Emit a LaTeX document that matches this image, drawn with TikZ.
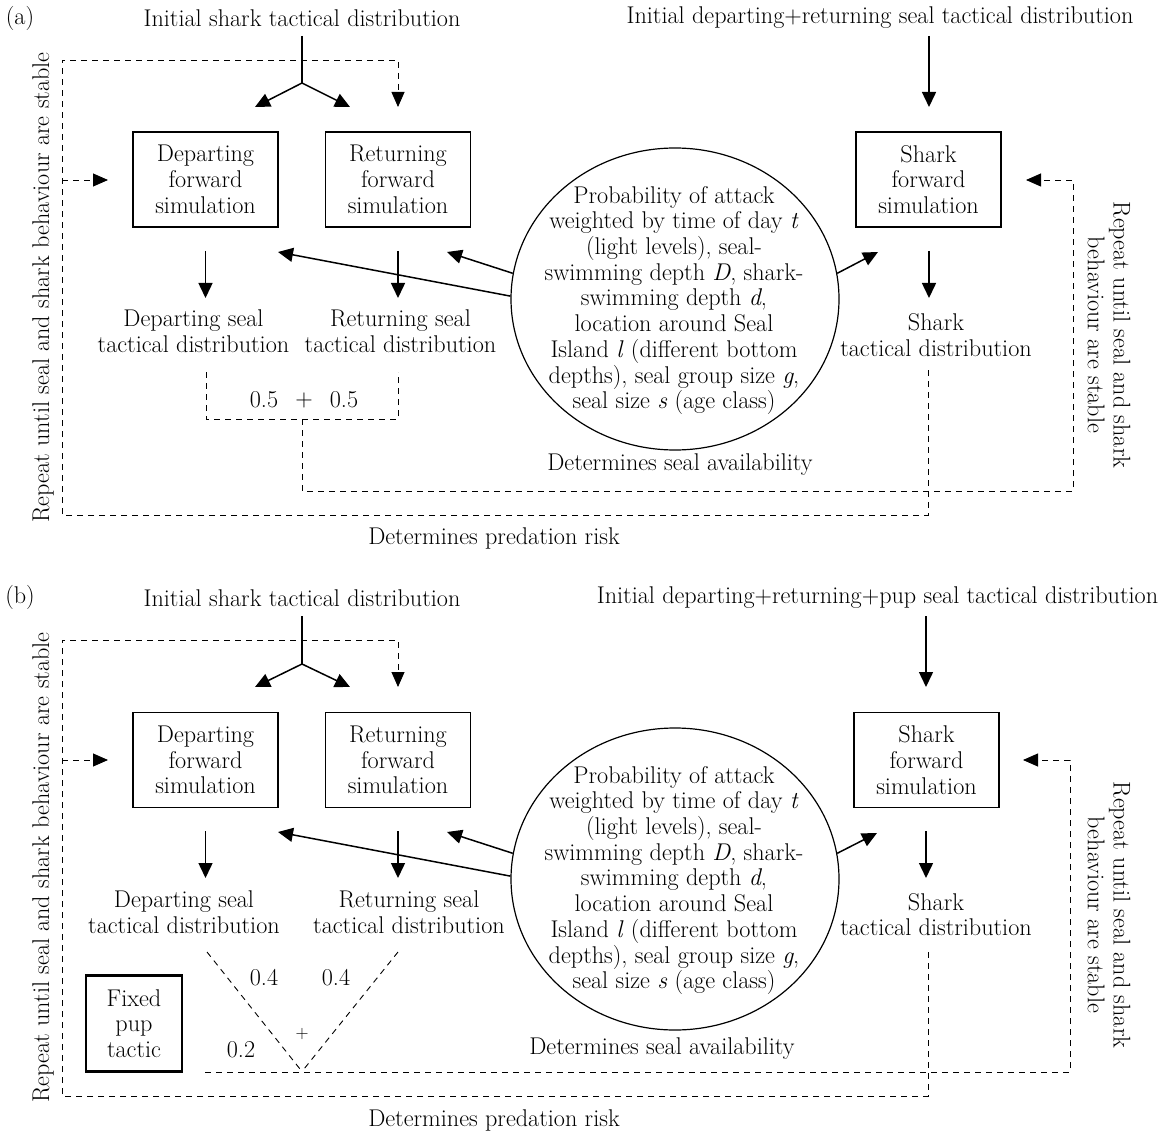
\documentclass[tikz,border=0pt]{standalone}
\usetikzlibrary{arrows.meta,shapes.geometric}
\begin{document}
\begin{tikzpicture}[x=1pt,y=-1pt,
  txt/.style={font=\fontsize{24.2}{25.7}\selectfont, inner sep=0pt, align=center},
  smalltxt/.style={font=\fontsize{18}{20}\selectfont, inner sep=0pt},
  simbox/.style={txt, draw, line width=1.3pt, minimum width=145pt, minimum height=95pt},
  pupbox/.style={txt, draw, line width=2.4pt, minimum width=96pt, minimum height=96pt},
  oval/.style={draw, ellipse, line width=1.2pt, minimum width=328pt, minimum height=302pt, inner sep=0pt},
  sline/.style={line width=1.5pt},
  arr/.style={line width=1.5pt, -{Triangle[length=15pt,width=14pt]}},
  dline/.style={line width=0.9pt, dash pattern=on 6pt off 5pt},
  darr/.style={dline, -{Triangle[length=15pt,width=13pt]}},
  vtxtl/.style={txt, rotate=90},
  vtxtr/.style={txt, rotate=-90},
]
\useasboundingbox (0,0) rectangle (1166,1131);

% ================= Panel (a) =================
\node[txt] (a-lab) at (20,18) {(a)};
\node[txt] (a-ish) at (302,18) {Initial shark tactical distribution};
\node[txt] (a-isl) at (880,18) {Initial departing+returning seal tactical distribution};
\node[simbox] (a-dep) at (205.5,179.5) {Departing\\forward\\simulation};
\node[simbox] (a-ret) at (398,179.5) {Returning\\forward\\simulation};
\node[simbox] (a-shk) at (928.5,179.5) {Shark\\forward\\simulation};
\node[txt] (a-dept) at (193.5,331) {Departing seal\\tactical distribution};
\node[txt] (a-rett) at (400.5,331) {Returning seal\\tactical distribution};
\node[txt] (a-shkt) at (936,335) {Shark\\tactical distribution};
\node[oval] (a-prob) at (675,299) {};
\node[txt] (a-probt) at (674,300.5) {Probability of attack\\
weighted by time of day \textit{t}\\
(light levels), seal-\\
swimming depth \textit{D}, shark-\\
swimming depth \textit{d},\\
location around Seal\\
Island \textit{l} (different bottom\\
depths), seal group size \textit{g},\\
seal size \textit{s} (age class)};
\node[txt] (a-avail) at (680,465) {Determines seal availability};
\node[txt] (a-risk) at (494,538) {Determines predation risk};
\node[vtxtl] (a-rpl) at (43,287.5) {Repeat until seal and shark behaviour are stable};
\node[vtxtr] (a-rpr) at (1109,335) {Repeat until seal and shark\\behaviour are stable};
\node[txt] (a-w1) at (264,400) {0.5};
\node[txt] (a-plus) at (304,400) {+};
\node[txt] (a-w2) at (344,400) {0.5};

% coordinates
\coordinate (a-s0) at (302,36);
\coordinate (a-s1) at (302,83);
\coordinate (a-sl) at (255,107);
\coordinate (a-sr) at (350,107);
\coordinate (a-i0) at (929,36);
\coordinate (a-i1) at (929,107);
\coordinate (a-d0) at (205.5,251);
\coordinate (a-d1) at (205.5,298);
\coordinate (a-r0) at (398,251);
\coordinate (a-r1) at (398,298);
\coordinate (a-k0) at (929,251);
\coordinate (a-k1) at (929,298);
\coordinate (a-t1) at (278,252);
\coordinate (a-t2) at (447,252);
\coordinate (a-t3) at (878,252);
% outer loop
\coordinate (a-o0) at (928,370);
\coordinate (a-o1) at (928,515);
\coordinate (a-o2) at (62,515);
\coordinate (a-o3) at (62,60);
\coordinate (a-o4) at (398,60);
\coordinate (a-o5) at (398,107);
\coordinate (a-o6) at (62,180);
\coordinate (a-o7) at (108,180);
% inner loop
\coordinate (a-b0) at (206,372);
\coordinate (a-b1) at (206,419);
\coordinate (a-b2) at (398,419);
\coordinate (a-b3) at (398,372);
\coordinate (a-b4) at (302,419);
\coordinate (a-b5) at (302,491);
\coordinate (a-b6) at (1073,491);
\coordinate (a-b7) at (1073,180);
\coordinate (a-b8) at (1026,180);

\draw[sline] (a-s0) -- (a-s1);
\draw[arr] (a-s1) -- (a-sl);
\draw[arr] (a-s1) -- (a-sr);
\draw[arr] (a-i0) -- (a-i1);
\draw[arr] (a-d0) -- (a-d1);
\draw[arr] (a-r0) -- (a-r1);
\draw[arr] (a-k0) -- (a-k1);
\draw[arr] (a-prob.179) -- (a-t1);
\draw[arr] (a-prob.171) -- (a-t2);
\draw[arr] (a-prob.9) -- (a-t3);
\draw[darr] (a-o0) -- (a-o1) -- (a-o2) -- (a-o3) -- (a-o4) -- (a-o5);
\draw[darr] (a-o6) -- (a-o7);
\draw[dline] (a-b0) -- (a-b1) -- (a-b2) -- (a-b3);
\draw[darr] (a-b4) -- (a-b5) -- (a-b6) -- (a-b7) -- (a-b8);

% ================= Panel (b) =================
\begin{scope}[yshift=-580pt]
\node[txt] (b-lab) at (20,17) {(b)};
\node[txt] (b-ish) at (302,18) {Initial shark tactical distribution};
\node[txt] (b-isl) at (877.5,18) {Initial departing+returning+pup seal tactical distribution};
\node[simbox] (b-dep) at (205.5,180) {Departing\\forward\\simulation};
\node[simbox] (b-ret) at (398,180) {Returning\\forward\\simulation};
\node[simbox] (b-shk) at (926.5,180) {Shark\\forward\\simulation};
\node[txt] (b-dept) at (184,332.5) {Departing seal\\tactical distribution};
\node[txt] (b-rett) at (409,332.5) {Returning seal\\tactical distribution};
\node[txt] (b-shkt) at (936,334.5) {Shark\\tactical distribution};
\node[oval] (b-prob) at (675,299) {};
\node[txt] (b-probt) at (674,300.5) {Probability of attack\\
weighted by time of day \textit{t}\\
(light levels), seal-\\
swimming depth \textit{D}, shark-\\
swimming depth \textit{d},\\
location around Seal\\
Island \textit{l} (different bottom\\
depths), seal group size \textit{g},\\
seal size \textit{s} (age class)};
\node[txt] (b-avail) at (662,469) {Determines seal availability};
\node[txt] (b-risk) at (494,540) {Determines predation risk};
\node[vtxtl] (b-rpl) at (43,287.5) {Repeat until seal and shark behaviour are stable};
\node[vtxtr] (b-rpr) at (1109,335) {Repeat until seal and shark\\behaviour are stable};
\node[pupbox] (b-pup) at (134,443.5) {Fixed\\pup\\tactic};
\node[txt] (b-w1) at (264,398) {0.4};
\node[txt] (b-w2) at (336,398) {0.4};
\node[smalltxt] (b-plus) at (302,454) {+};
\node[txt] (b-w3) at (241,470) {0.2};

\coordinate (b-s0) at (302,36);
\coordinate (b-s1) at (302,84);
\coordinate (b-sl) at (255,107);
\coordinate (b-sr) at (350,107);
\coordinate (b-i0) at (926,36);
\coordinate (b-i1) at (926,107);
\coordinate (b-d0) at (205.5,251);
\coordinate (b-d1) at (205.5,298);
\coordinate (b-r0) at (398,251);
\coordinate (b-r1) at (398,298);
\coordinate (b-k0) at (926,251);
\coordinate (b-k1) at (926,298);
\coordinate (b-t1) at (278,252);
\coordinate (b-t2) at (447,252);
\coordinate (b-t3) at (877,253);
% outer loop
\coordinate (b-o0) at (928,372);
\coordinate (b-o1) at (928,516);
\coordinate (b-o2) at (62,516);
\coordinate (b-o3) at (62,60);
\coordinate (b-o4) at (398,60);
\coordinate (b-o5) at (398,107);
\coordinate (b-o6) at (62,180);
\coordinate (b-o7) at (108,180);
% V and inner loop
\coordinate (b-v0) at (207,372);
\coordinate (b-v1) at (300,489);
\coordinate (b-v2) at (398,372);
\coordinate (b-v3) at (304,489);
\coordinate (b-h0) at (205,492);
\coordinate (b-h1) at (1070,492);
\coordinate (b-h2) at (1070,180);
\coordinate (b-h3) at (1023,180);

\draw[sline] (b-s0) -- (b-s1);
\draw[arr] (b-s1) -- (b-sl);
\draw[arr] (b-s1) -- (b-sr);
\draw[arr] (b-i0) -- (b-i1);
\draw[arr] (b-d0) -- (b-d1);
\draw[arr] (b-r0) -- (b-r1);
\draw[arr] (b-k0) -- (b-k1);
\draw[arr] (b-prob.179) -- (b-t1);
\draw[arr] (b-prob.171) -- (b-t2);
\draw[arr] (b-prob.9) -- (b-t3);
\draw[darr] (b-o0) -- (b-o1) -- (b-o2) -- (b-o3) -- (b-o4) -- (b-o5);
\draw[darr] (b-o6) -- (b-o7);
\draw[dline] (b-v0) -- (b-v1);
\draw[dline] (b-v2) -- (b-v3);
\draw[darr] (b-h0) -- (b-h1) -- (b-h2) -- (b-h3);
\end{scope}
\end{tikzpicture}
\end{document}
